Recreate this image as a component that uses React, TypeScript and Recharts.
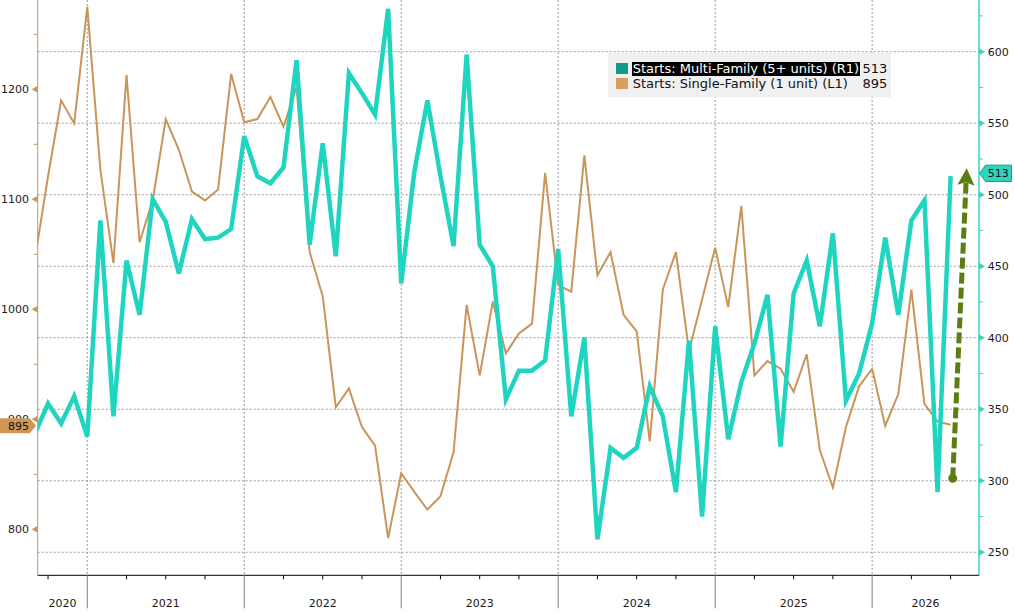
import React from 'react';
import { LineChart, Line, XAxis, YAxis, CartesianGrid, ReferenceLine, ReferenceDot, Legend } from 'recharts';

// ---------- data ----------
const months = [
  '2020-09', '2020-10', '2020-11', '2020-12',
  '2021-01', '2021-02', '2021-03', '2021-04', '2021-05', '2021-06', '2021-07', '2021-08', '2021-09', '2021-10', '2021-11', '2021-12',
  '2022-01', '2022-02', '2022-03', '2022-04', '2022-05', '2022-06', '2022-07', '2022-08', '2022-09', '2022-10', '2022-11', '2022-12',
  '2023-01', '2023-02', '2023-03', '2023-04', '2023-05', '2023-06', '2023-07', '2023-08', '2023-09', '2023-10', '2023-11', '2023-12',
  '2024-01', '2024-02', '2024-03', '2024-04', '2024-05', '2024-06', '2024-07', '2024-08', '2024-09', '2024-10', '2024-11', '2024-12',
  '2025-01', '2025-02', '2025-03', '2025-04', '2025-05', '2025-06', '2025-07', '2025-08', '2025-09', '2025-10', '2025-11', '2025-12',
  '2026-01', '2026-02', '2026-03', '2026-04', '2026-05', '2026-06', '2026-07',
];

const multiFamily = [
  333, 354, 340, 359,
  331, 482, 345, 454, 416, 497, 481, 445, 483, 469, 470, 476,
  541, 513, 508, 519, 594, 465, 536, 457, 585, 571, 556, 630,
  438, 516, 566, 513, 464, 598, 465, 450, 357, 377, 377, 384,
  462, 345, 400, 259, 323, 316, 323, 366, 345, 292, 398, 275,
  408, 329, 369, 396, 430, 324, 431, 454, 408, 473, 356, 375,
  410, 470, 416, 482, 496, 292, 513,
];

const singleFamily = [
  1046, 1121, 1190, 1169,
  1275, 1127, 1042, 1213, 1061, 1099, 1173, 1145, 1107, 1099, 1109, 1214,
  1170, 1173, 1193, 1166, 1202, 1052, 1012, 911, 928, 893, 876, 792,
  851, 834, 818, 830, 870, 1004, 940, 1007, 960, 978, 987, 1124,
  1022, 1016, 1140, 1031, 1052, 995, 980, 880, 1018, 1052, 962, 1009,
  1056, 1002, 1094, 940, 953, 946, 925, 959, 872, 838, 893, 930,
  946, 894, 923, 1018, 914, 898, 895,
];

const yearLabels = ['2020', '2021', '2022', '2023', '2024', '2025', '2026'];

const leftTicks = [800, 850, 900, 950, 1000, 1050, 1100, 1150, 1200, 1250];
const leftMajor = [800, 900, 1000, 1100, 1200];
const rightTicks = [250, 275, 300, 325, 350, 375, 400, 425, 450, 475, 500, 525, 550, 575, 600, 625];
const rightMajor = [250, 300, 350, 400, 450, 500, 550, 600];

const seriesNames = ['Starts: Multi-Family (5+ units) (R1)', 'Starts: Single-Family (1 unit) (L1)'];

// annotation arrow (month index, right-axis value)
const arrowStart = { x: 78.16, y: 301.7 };
const arrowEnd = { x: 79.23, y: 518.5 };

// ---------- layout / style ----------
const X_DOMAIN: [number, number] = [8.21, 80.17];
const LEFT_DOMAIN: [number, number] = [758.2, 1281.2];
const RIGHT_DOMAIN: [number, number] = [233.9, 636.15];

const FONT = '"DejaVu Sans", Verdana, sans-serif';
const TICK_FS = 11;
const TEAL = '#20d5c0';
const TEAL_AXIS = '#3ad3c1';
const TEAL_DARK = '#0f9b86';
const ORANGE = '#c9955b';
const ORANGE_AXIS = '#c8975f';
const ORANGE_SQ = '#dc9e5f';
const GREEN = '#5b7d12';

const monthIndex = (m: string) => (parseInt(m.slice(0, 4), 10) - 2020) * 12 + parseInt(m.slice(5, 7), 10) - 1;

const data = months.map((m, k) => ({
  t: monthIndex(m),
  month: m,
  multi: multiFamily[k],
  single: singleFamily[k],
}));

const quarterTicks = data.map((d) => d.t).filter((t) => t % 3 === 0);
const yearStarts = yearLabels.slice(1).map((y) => (parseInt(y, 10) - 2020) * 12);
const yearCenters = yearLabels.map((y) => {
  const s = (parseInt(y, 10) - 2020) * 12;
  const a = Math.max(s, X_DOMAIN[0]);
  const b = Math.min(s + 12, X_DOMAIN[1]);
  return { value: (a + b) / 2, label: y };
});
const xTicks = Array.from(new Set([...quarterTicks, ...yearCenters.map((c) => c.value)])).sort((a, b) => a - b);

const lastMulti = multiFamily[multiFamily.length - 1];
const lastSingle = singleFamily[singleFamily.length - 1];

// ---------- custom parts ----------
const LeftTick = (props: any) => {
  const { x, y, payload } = props;
  const v = payload.value;
  if (!leftMajor.includes(v)) {
    return <line x1={x - 4} y1={y} x2={x} y2={y} stroke={ORANGE_AXIS} strokeWidth={1} />;
  }
  return (
    <g>
      <polygon points={`${x},${y - 3.5} ${x},${y + 3.5} ${x - 6},${y}`} fill={ORANGE_AXIS} />
      <text x={x - 8.7} y={y + 4.1} textAnchor="end" fontSize={TICK_FS} fontFamily={FONT} fill="#1a1a1a">
        {v}
      </text>
    </g>
  );
};

const RightTick = (props: any) => {
  const { x, y, payload } = props;
  const v = payload.value;
  if (!rightMajor.includes(v)) {
    return <line x1={x} y1={y} x2={x + 4} y2={y} stroke={TEAL_AXIS} strokeWidth={1} />;
  }
  return (
    <g>
      <polygon points={`${x},${y - 3.5} ${x},${y + 3.5} ${x + 6},${y}`} fill={TEAL_AXIS} />
      <text x={x + 8.8} y={y + 4.1} textAnchor="start" fontSize={TICK_FS} fontFamily={FONT} fill="#1a1a1a">
        {v}
      </text>
    </g>
  );
};

const XTick = (props: any) => {
  const { x, y, payload } = props;
  const v = payload.value;
  const parts: React.ReactNode[] = [];
  if (yearStarts.includes(v)) {
    parts.push(<line key="maj" x1={x} y1={y} x2={x} y2={y + 33} stroke="#7d7d7d" strokeWidth={1} />);
  } else if (quarterTicks.includes(v)) {
    parts.push(<line key="min" x1={x} y1={y} x2={x} y2={y + 4} stroke="#000" strokeWidth={1} />);
  }
  const c = yearCenters.find((yc) => Math.abs(yc.value - v) < 1e-6);
  if (c) {
    parts.push(
      <text key="lbl" x={x} y={y + 31.2} textAnchor="middle" fontSize={TICK_FS} fontFamily={FONT} fill="#1a1a1a">
        {c.label}
      </text>
    );
  }
  return <g>{parts}</g>;
};

const LeftFlag = (props: any) => {
  const vb = props.viewBox || {};
  const x = vb.x;
  const yc = vb.y + 1;
  return (
    <g>
      <polygon
        points={`0,${yc - 7.5} ${x - 8},${yc - 7.5} ${x - 1.7},${yc} ${x - 8},${yc + 7.5} 0,${yc + 7.5}`}
        fill="#d09657"
      />
      <text x={18.6} y={yc + 4.1} textAnchor="middle" fontSize={TICK_FS} fontFamily={FONT} fill="#111">
        {props.text}
      </text>
    </g>
  );
};

const RightFlag = (props: any) => {
  const vb = props.viewBox || {};
  const x = vb.x + vb.width;
  const yc = vb.y - 2.8;
  return (
    <g>
      <polygon
        points={`${x + 0.5},${yc} ${x + 6.5},${yc - 8.2} ${x + 32.5},${yc - 8.2} ${x + 32.5},${yc + 8.2} ${x + 6.5},${yc + 8.2}`}
        fill="#2fd4bf"
        stroke="#139e8a"
        strokeWidth={1}
      />
      <text x={x + 19.3} y={yc + 4.1} textAnchor="middle" fontSize={TICK_FS} fontFamily={FONT} fill="#111">
        {props.text}
      </text>
    </g>
  );
};

const ArrowShape = (props: any) => {
  const { x1, y1, x2, y2 } = props;
  if ([x1, y1, x2, y2].some((v) => typeof v !== 'number' || isNaN(v))) return <g />;
  const dx = x2 - x1;
  const dy = y2 - y1;
  const len = Math.hypot(dx, dy) || 1;
  const ux = dx / len;
  const uy = dy / len;
  const head = 17;
  const half = 8.6;
  const notch = 3;
  const bx = x2 - ux * head;
  const by = y2 - uy * head;
  const px = -uy;
  const py = ux;
  const pts = [
    `${x2},${y2}`,
    `${bx + px * half},${by + py * half}`,
    `${bx + ux * notch},${by + uy * notch}`,
    `${bx - px * half},${by - py * half}`,
  ].join(' ');
  return (
    <g>
      <line x1={x1} y1={y1} x2={bx + ux * notch} y2={by + uy * notch} stroke={GREEN} strokeWidth={5} strokeDasharray="11 4" />
      <polygon points={pts} fill={GREEN} />
    </g>
  );
};

const LegendBox = () => {
  const rows = [
    { name: seriesNames[0], value: lastMulti, color: TEAL_DARK, highlight: true },
    { name: seriesNames[1], value: lastSingle, color: ORANGE_SQ, highlight: false },
  ];
  return (
    <div
      style={{
        position: 'relative',
        width: 283,
        height: 43.5,
        background: '#f0f0f0',
        fontFamily: FONT,
        fontSize: 13,
        color: '#111',
      }}
    >
      {rows.map((r, k) => (
        <React.Fragment key={r.name}>
          <div
            style={{
              position: 'absolute',
              left: 8,
              top: 9.4 + k * 15.3,
              width: 11.7,
              height: 11.3,
              background: r.color,
            }}
          />
          <span
            style={{
              position: 'absolute',
              left: 23.7,
              top: 8.4 + k * 15.3,
              height: 14.3,
              lineHeight: '14.3px',
              padding: '0 1px 0 1px',
              whiteSpace: 'nowrap',
              background: r.highlight ? '#000' : 'transparent',
              color: r.highlight ? '#fff' : '#111',
            }}
          >
            {r.name}
          </span>
          <span
            style={{
              position: 'absolute',
              left: 254.5,
              top: 8.4 + k * 15.3,
              lineHeight: '14.3px',
              whiteSpace: 'nowrap',
            }}
          >
            {r.value}
          </span>
        </React.Fragment>
      ))}
    </div>
  );
};

export default function App() {
  return (
    <div style={{ position: 'absolute', left: 0, top: 0, width: 1015, height: 612, background: '#fff' }}>
      <LineChart width={1015} height={612} data={data} margin={{ top: 0, right: 0, bottom: 0, left: 0 }}>
        <CartesianGrid
          xAxisId={0}
          yAxisId="right"
          horizontalValues={rightMajor}
          verticalValues={yearStarts}
          stroke="#9a9a9a"
          strokeDasharray="2 2"
        />
        <XAxis
          dataKey="t"
          type="number"
          domain={X_DOMAIN}
          allowDataOverflow
          ticks={xTicks}
          interval={0}
          height={36.7}
          tickSize={0}
          tickMargin={0}
          tickLine={false}
          axisLine={{ stroke: '#000', strokeWidth: 1 }}
          tick={(p: any) => <XTick {...p} />}
        />
        <YAxis
          yAxisId="left"
          orientation="left"
          type="number"
          width={37.7}
          domain={LEFT_DOMAIN}
          allowDataOverflow
          ticks={leftTicks}
          interval={0}
          tickSize={0}
          tickMargin={0}
          tickLine={false}
          axisLine={{ stroke: ORANGE_AXIS, strokeWidth: 1 }}
          tick={(p: any) => <LeftTick {...p} />}
        />
        <YAxis
          yAxisId="right"
          orientation="right"
          type="number"
          width={36}
          domain={RIGHT_DOMAIN}
          allowDataOverflow
          ticks={rightTicks}
          interval={0}
          tickSize={0}
          tickMargin={0}
          tickLine={false}
          axisLine={{ stroke: TEAL_AXIS, strokeWidth: 1.5 }}
          tick={(p: any) => <RightTick {...p} />}
        />
        <Line
          yAxisId="left"
          type="linear"
          dataKey="single"
          name={seriesNames[1]}
          stroke={ORANGE}
          strokeWidth={2}
          dot={false}
          activeDot={false}
          isAnimationActive={false}
        />
        <Line
          yAxisId="right"
          type="linear"
          dataKey="multi"
          name={seriesNames[0]}
          stroke={TEAL}
          strokeWidth={4.5}
          dot={false}
          activeDot={false}
          isAnimationActive={false}
        />
        <ReferenceLine
          yAxisId="right"
          segment={[arrowStart, arrowEnd]}
          stroke={GREEN}
          shape={(p: any) => <ArrowShape {...p} />}
        />
        <ReferenceDot yAxisId="right" x={arrowStart.x} y={arrowStart.y} r={4.5} fill={GREEN} stroke="none" />
        <ReferenceLine
          yAxisId="left"
          y={lastSingle}
          stroke="none"
          zIndex={3000}
          label={<LeftFlag text={String(lastSingle)} />}
        />
        <ReferenceLine
          yAxisId="right"
          y={lastMulti}
          stroke="none"
          zIndex={3000}
          label={<RightFlag text={String(lastMulti)} />}
        />
        <Legend
          layout="vertical"
          align="center"
          verticalAlign="middle"
          wrapperStyle={{ left: 608, top: 53.3, width: 283, height: 43.5 }}
          content={() => <LegendBox />}
        />
      </LineChart>
    </div>
  );
}
